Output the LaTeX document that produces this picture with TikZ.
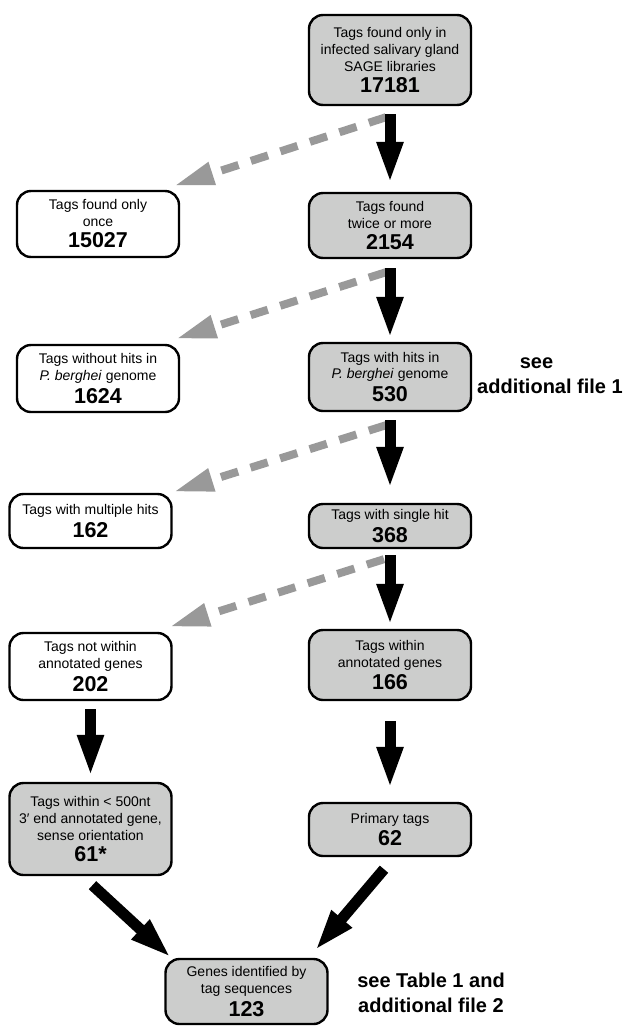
\documentclass[tikz,border=0pt]{standalone}
\usepackage{fontspec}
\setmainfont{Liberation Sans}
\usetikzlibrary{arrows.meta}
\definecolor{boxgray}{RGB}{204,205,204}
\definecolor{arrowgray}{RGB}{153,153,153}
\tikzset{
  tagbox/.style={draw, line width=2.4pt, rounded corners=14pt, minimum width=162pt,
    inner sep=0pt, align=center, font=\fontsize{14}{17}\selectfont},
  keptbox/.style={tagbox, fill=boxgray},
  dropbox/.style={tagbox, fill=white},
  keeparrow/.style={line width=11pt, -{Triangle[length=42pt,width=24pt]}},
  droparrow/.style={arrowgray, line width=8pt, dash pattern=on 18pt off 13pt,
    -{Triangle[length=40pt,width=22pt]}},
  sidenote/.style={font=\fontsize{20}{25}\selectfont\bfseries, align=center}
}
\newcommand{\tagnum}[1]{\\[4pt]{\fontsize{21.5}{25}\selectfont\bfseries #1}}
\begin{document}
\begin{tikzpicture}[x=1pt,y=-1pt]
\useasboundingbox (0,0) rectangle (625,1026);
\begin{scope}
\node[keptbox, minimum height=90pt] (found) at (390,60) {Tags found only in\\infected salivary gland\\SAGE libraries\tagnum{17181}};
\node[keptbox, minimum height=65pt] (twice) at (390,225.5) {Tags found\\twice or more\tagnum{2154}};
\node[keptbox, minimum height=68pt] (hits) at (390,377) {Tags with hits in\\\textit{P. berghei} genome\tagnum{530}};
\node[keptbox, minimum height=44pt] (single) at (390,526) {Tags with single hit\tagnum{368}};
\node[keptbox, minimum height=70pt] (within) at (390,665) {Tags within\\annotated genes\tagnum{166}};
\node[keptbox, minimum height=53pt] (primary) at (390,829.5) {Primary tags\tagnum{62}};
\end{scope}
\begin{scope}
\node[dropbox, minimum height=66pt] (once) at (98,224) {Tags found only\\once\tagnum{15027}};
\node[dropbox, minimum height=67pt] (nohits) at (98,378.5) {Tags without hits in\\\textit{P. berghei} genome\tagnum{1624}};
\node[dropbox, minimum height=54pt] (multi) at (90.5,521) {Tags with multiple hits\tagnum{162}};
\node[dropbox, minimum height=67pt] (notwithin) at (90.5,666.5) {Tags not within\\annotated genes\tagnum{202}};
\node[keptbox, minimum height=92pt] (near) at (90.5,829) {Tags within < 500nt\\3′ end annotated gene,\\sense orientation\tagnum{61*}};
\node[keptbox, minimum height=65pt] (genes) at (246.5,991.5) {Genes identified by\\tag sequences\tagnum{123}};
\end{scope}
\begin{scope}
\node[sidenote] (seefile) at (550,376) {see\hspace*{27pt}\\additional file 1};
\node[sidenote] (seetable) at (431,993) {see Table 1 and\\additional file 2};
\end{scope}
\begin{scope}
\draw[droparrow] ([xshift=-4pt,yshift=-11pt]found.south) -- ([xshift=-6pt,yshift=4pt]once.north east);
\draw[droparrow] ([xshift=-4pt,yshift=-13pt]twice.south) -- ([xshift=-4pt,yshift=5pt]nohits.north east);
\draw[droparrow] ([xshift=-4pt,yshift=-13pt]hits.south) -- ([xshift=1pt,yshift=1pt]multi.north east);
\draw[droparrow] ([xshift=-6pt,yshift=-10pt]single.south) -- ([xshift=-3pt,yshift=5pt]notwithin.north east);
\draw[keeparrow] ([yshift=-8pt]found.south) -- ([yshift=8pt]twice.north);
\draw[keeparrow] ([yshift=-9pt]twice.south) -- ([yshift=3pt]hits.north);
\draw[keeparrow] ([yshift=-8pt]hits.south) -- ([yshift=14pt]single.north);
\draw[keeparrow] ([yshift=-6pt]single.south) -- ([yshift=3pt]within.north);
\draw[keeparrow] ([yshift=-20pt]within.south) -- ([yshift=13pt]primary.north);
\draw[keeparrow] ([yshift=-8pt]notwithin.south) -- ([yshift=5pt]near.north);
\draw[keeparrow] ([xshift=2pt,yshift=-9pt]near.south) -- ([xshift=7pt]genes.north west);
\draw[keeparrow] ([xshift=-6pt,yshift=-12pt]primary.south) -- ([xshift=-14pt,yshift=7pt]genes.north east);
\end{scope}
\end{tikzpicture}
\end{document}
